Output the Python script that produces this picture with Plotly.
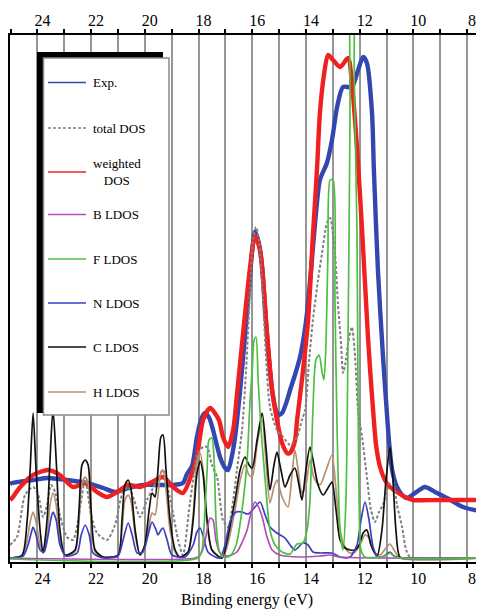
import plotly.graph_objects as go

# ---------------- data (binding energy in eV, intensity in arbitrary units) ----------------
E_LEFT, E_RIGHT = 25.02, 7.37
TICK_VALUES = list(range(8, 26))
TICK_LABELS = [str(v) if v % 2 == 0 else "" for v in TICK_VALUES]

exp_E = [25.02, 24.94, 24.16, 23.60, 22.90, 22.15, 21.55, 21.11, 20.62, 20.07, 19.43, 18.95,
         18.58, 18.43, 18.24, 18.06, 17.90, 17.76, 17.60, 17.46, 17.20, 17.01, 16.90, 16.75,
         16.64, 16.45, 16.30, 16.19, 16.08, 16.00, 15.90, 15.78, 15.63, 15.52, 15.41, 15.26,
         15.15, 15.04, 14.89, 14.70, 14.59, 14.41, 14.22, 14.07, 13.96, 13.81, 13.66, 13.48,
         13.22, 13.03, 12.84, 12.62, 12.29, 12.06, 11.87, 11.73, 11.54, 11.47, 11.32, 11.13,
         11.02, 10.91, 10.79, 10.61, 10.42, 10.24, 9.94, 9.57, 9.19, 8.75, 8.15, 7.37]
exp_I = [75, 76, 79, 81, 79, 76, 71, 67, 71, 74, 74, 74,
         76, 85, 93, 122, 140, 146, 141, 129, 102, 91, 89, 104,
         122, 169, 214, 249, 284, 309, 327, 319, 292, 249, 209, 169,
         152, 144, 146, 159, 169, 184, 202, 224, 246, 289, 336, 379,
         396, 419, 452, 472, 472, 489, 502, 496, 446, 389, 289, 202,
         159, 119, 89, 72, 64, 61, 66, 72, 67, 61, 52, 47]

wdos_E = [25.02, 24.94, 24.64, 24.16, 23.60, 23.16, 22.67, 22.22, 21.78, 21.41, 21.03, 20.62,
          20.18, 19.73, 19.32, 18.95, 18.58, 18.24, 18.06, 17.83, 17.57, 17.24, 17.09, 16.90,
          16.71, 16.57, 16.34, 16.08, 15.90, 15.71, 15.45, 15.26, 15.08, 14.89, 14.70, 14.59,
          14.41, 14.33, 14.15, 13.92, 13.74, 13.59, 13.48, 13.33, 13.18, 12.99, 12.73, 12.43,
          12.29, 12.10, 11.91, 11.69, 11.61, 11.50, 11.39, 11.24, 11.06, 10.87, 10.61, 10.31,
          10.01, 9.01, 7.37]
wdos_I = [59, 61, 72, 84, 89, 84, 72, 76, 67, 62, 67, 74,
          72, 77, 82, 72, 66, 86, 102, 139, 151, 139, 122, 112,
          129, 164, 226, 292, 323, 309, 226, 169, 139, 116, 106, 106,
          118, 139, 179, 239, 324, 389, 446, 484, 504, 499, 492, 501,
          476, 412, 329, 222, 189, 149, 114, 92, 79, 72, 67, 62,
          59, 59, 59]

tdos_E = [25.02, 24.76, 24.46, 24.16, 23.97, 23.79, 23.64, 23.49, 23.34, 23.16, 22.90, 22.67,
          22.48, 22.22, 22.00, 21.78, 21.41, 21.11, 20.85, 20.62, 20.40, 20.18, 19.92, 19.73,
          19.54, 19.32, 19.13, 18.95, 18.76, 18.58, 18.32, 18.02, 17.83, 17.68, 17.50, 17.31,
          17.09, 16.90, 16.71, 16.57, 16.38, 16.23, 16.08, 15.97, 15.86, 15.75, 15.60, 15.48,
          15.34, 15.08, 14.85, 14.59, 14.33, 14.15, 14.03, 13.88, 13.74, 13.55, 13.40, 13.22,
          13.10, 12.92, 12.81, 12.69, 12.62, 12.54, 12.43, 12.29, 12.17, 12.06, 11.91, 11.73,
          11.58, 11.43, 11.28, 11.13, 10.91, 10.76, 10.61, 10.42, 10.27, 10.12, 9.01, 7.37]
tdos_I = [14, 22, 64, 72, 64, 42, 54, 74, 67, 44, 22, 19,
          39, 79, 44, 26, 19, 34, 64, 72, 59, 42, 59, 69,
          79, 89, 69, 46, 19, 4, 56, 106, 112, 112, 94, 82,
          39, 32, 59, 89, 129, 189, 269, 319, 332, 319, 259, 199,
          152, 129, 122, 114, 122, 139, 149, 199, 239, 279, 306, 336,
          341, 306, 256, 214, 186, 194, 216, 232, 202, 149, 122, 82,
          49, 37, 47, 54, 74, 77, 54, 32, 9, 2, 1, 1]

b_E = [25.02, 18.13, 17.94, 17.79, 17.68, 17.57, 17.46, 17.35, 17.20, 16.90, 16.57, 16.34,
       16.19, 16.04, 15.90, 15.75, 15.60, 15.45, 15.26, 14.97, 14.22, 13.48, 13.10, 12.73, 7.37]
b_I = [1, 1, 4, 14, 29, 41, 39, 19, 6, 3, 7, 19,
       29, 47, 57, 51, 39, 22, 9, 4, 2, 3, 4, 2, 1]

f_E = [25.02, 18.02, 17.87, 17.76, 17.68, 17.61, 17.50, 17.42, 17.35, 17.24, 17.09, 16.83,
       16.60, 16.38, 16.19, 16.08, 16.00, 15.93, 15.86, 15.78, 15.67, 15.52, 15.34, 15.15,
       14.89, 14.59, 14.33, 14.11, 13.96, 13.85, 13.74, 13.63, 13.51, 13.40, 13.33, 13.25,
       13.18, 13.10, 12.99, 12.92, 12.84, 12.73, 12.62, 12.51, 12.43, 12.36, 12.31, 12.26,
       12.20, 12.10, 12.06, 12.02, 11.95, 11.80, 11.06, 10.87, 10.68, 7.37]
f_I = [0, 1, 9, 49, 89, 119, 121, 99, 39, 9, 2, 3,
       14, 49, 99, 159, 189, 219, 222, 179, 129, 79, 29, 14,
       7, 5, 15, 16, 29, 59, 149, 199, 204, 187, 179, 219,
       309, 379, 379, 259, 129, 29, 9, 59, 229, 439, 700, 700,
       480, 329, 160, 60, 9, 2, 3, 6, 2, 1]

n_E = [25.02, 24.53, 24.35, 24.23, 24.16, 24.05, 23.90, 23.75, 23.60, 23.49, 23.42, 23.30,
       23.16, 22.93, 22.52, 22.37, 22.22, 22.07, 21.93, 21.55, 21.00, 20.81, 20.62, 20.47,
       20.29, 20.07, 19.88, 19.73, 19.58, 19.51, 19.40, 19.32, 19.17, 18.99, 18.50, 18.20,
       18.06, 17.94, 17.79, 17.65, 17.38, 17.20, 17.01, 16.83, 16.60, 16.38, 16.16, 15.93,
       15.71, 15.52, 15.34, 15.08, 14.78, 14.59, 14.41, 14.11, 13.92, 13.74, 13.48, 13.03,
       12.73, 12.36, 12.10, 11.95, 11.80, 11.65, 11.50, 11.32, 11.09, 10.87, 10.72, 10.50, 7.37]
n_I = [1, 3, 14, 26, 32, 24, 9, 7, 24, 41, 47, 39,
       14, 3, 6, 24, 34, 24, 6, 1, 3, 19, 36, 24,
       6, 7, 24, 37, 29, 24, 29, 31, 19, 4, 2, 14,
       27, 31, 19, 7, 2, 1, 14, 37, 47, 47, 45, 51,
       57, 44, 32, 26, 21, 14, 9, 16, 14, 7, 6, 6,
       2, 2, 14, 39, 57, 39, 12, 2, 3, 7, 3, 1, 1]

c_E = [25.02, 24.57, 24.38, 24.27, 24.16, 24.05, 23.90, 23.79, 23.64, 23.53, 23.42, 23.30,
       23.16, 22.97, 22.60, 22.45, 22.34, 22.22, 22.11, 22.00, 21.85, 21.55, 21.00, 20.85,
       20.74, 20.62, 20.51, 20.36, 20.18, 20.00, 19.84, 19.73, 19.62, 19.51, 19.40, 19.32,
       19.21, 19.06, 18.87, 18.69, 18.39, 18.20, 18.06, 17.94, 17.83, 17.68, 17.50, 17.12,
       16.97, 16.83, 16.64, 16.45, 16.27, 16.12, 16.00, 15.82, 15.63, 15.48, 15.34, 15.19,
       15.08, 14.93, 14.78, 14.59, 14.41, 14.26, 14.15, 14.00, 13.85, 13.70, 13.55, 13.36,
       13.18, 13.03, 12.88, 12.73, 12.54, 12.36, 12.17, 12.02, 11.87, 11.73, 11.58, 11.35,
       11.17, 11.02, 10.87, 10.76, 10.65, 10.50, 10.12, 7.37]
c_I = [1, 4, 39, 89, 146, 89, 29, 6, 39, 99, 150, 99,
       29, 4, 9, 49, 94, 99, 94, 49, 9, 2, 4, 39,
       74, 79, 69, 29, 4, 14, 49, 66, 62, 89, 122, 124,
       89, 39, 9, 2, 7, 39, 85, 98, 85, 39, 9, 1,
       14, 32, 59, 89, 102, 94, 91, 119, 146, 109, 69, 94,
       107, 89, 72, 84, 91, 74, 59, 89, 112, 94, 74, 64,
       71, 77, 49, 19, 11, 9, 9, 14, 26, 29, 14, 3,
       29, 79, 112, 79, 29, 2, 1, 1]

h_E = [25.02, 24.57, 24.38, 24.27, 24.16, 24.05, 23.90, 23.79, 23.64, 23.53, 23.42, 23.30,
       23.16, 22.97, 22.60, 22.45, 22.34, 22.22, 22.11, 22.00, 21.85, 21.55, 21.00, 20.85,
       20.74, 20.62, 20.51, 20.36, 20.18, 20.00, 19.84, 19.73, 19.62, 19.51, 19.40, 19.32,
       19.21, 19.06, 18.87, 18.69, 18.39, 18.20, 18.06, 17.94, 17.83, 17.68, 17.50, 17.12,
       16.97, 16.83, 16.64, 16.45, 16.27, 16.12, 16.00, 15.82, 15.63, 15.48, 15.34, 15.19,
       15.08, 14.89, 14.67, 14.52, 14.41, 14.29, 14.15, 14.00, 13.85, 13.70, 13.48, 13.25,
       13.03, 12.88, 12.73, 12.54, 12.36, 12.17, 11.99, 11.80, 11.65, 11.47, 11.24, 11.02,
       10.87, 10.72, 10.50, 7.37]
h_I = [1, 3, 19, 37, 47, 37, 14, 7, 24, 54, 66, 54,
       19, 3, 7, 39, 76, 82, 76, 39, 7, 2, 4, 29,
       59, 64, 57, 24, 4, 11, 34, 46, 44, 64, 87, 89,
       69, 29, 7, 2, 7, 44, 96, 106, 89, 34, 9, 1,
       9, 24, 49, 79, 94, 84, 82, 114, 139, 94, 56, 72,
       79, 62, 52, 84, 109, 89, 66, 74, 99, 81, 74, 89,
       104, 69, 29, 11, 6, 7, 14, 24, 21, 7, 4, 11,
       15, 9, 1, 1]

SERIES = [
    # name, E, I, color, width, dash
    ("Exp.", exp_E, exp_I, "#3447b0", 4.4, "solid"),
    ("weighted DOS", wdos_E, wdos_I, "#f02020", 4.4, "solid"),
    ("total DOS", tdos_E, tdos_I, "#808080", 2.0, "3px,2px"),
    ("H LDOS", h_E, h_I, "#b8906e", 1.7, "solid"),
    ("C LDOS", c_E, c_I, "#111111", 1.7, "solid"),
    ("N LDOS", n_E, n_I, "#3a3fc0", 1.7, "solid"),
    ("B LDOS", b_E, b_I, "#b24cb8", 1.7, "solid"),
    ("F LDOS", f_E, f_I, "#4cc040", 1.7, "solid"),
]

LEGEND_ORDER = ["Exp.", "total DOS", "weighted DOS", "B LDOS", "F LDOS", "N LDOS", "C LDOS", "H LDOS"]
LEGEND_TEXT = {"weighted DOS": "weighted<br>DOS"}

# ---------------- figure ----------------
# the page adds an 8 px body margin, so the figure is 8 px smaller in each direction
BODY = 8
W, H = 484 - BODY, 609 - BODY
ML, MR, MT, MB = 10 - BODY, 0, 35 - BODY, 47
PW, PH = W - ML - MR, H - MT - MB

def px(x):  # page pixel -> paper fraction
    return (x - BODY - ML) / PW

def py(y):
    return (H - MB - (y - BODY)) / PH

FONT = "Liberation Serif, Times New Roman, serif"

fig = go.Figure()
for name, ex, iy, col, wd, dash in SERIES:
    fig.add_trace(go.Scatter(x=ex, y=iy, mode="lines", name=name,
                             line=dict(color=col, width=wd, dash=dash, shape="spline", smoothing=0.7),
                             showlegend=False, hoverinfo="skip"))

# invisible trace to anchor the top axis
fig.add_trace(go.Scatter(x=[E_LEFT], y=[0], xaxis="x2", mode="markers",
                         marker=dict(opacity=0), showlegend=False, hoverinfo="skip"))

axis_common = dict(range=[E_LEFT, E_RIGHT], tickmode="array", tickvals=TICK_VALUES,
                   ticktext=TICK_LABELS, ticks="outside", ticklen=4, tickwidth=1.5,
                   tickcolor="black", showline=True, linecolor="black", linewidth=2,
                   tickfont=dict(family=FONT, size=16, color="black"), ticklabelshift=-5,
                   zeroline=False)

fig.update_layout(
    width=W, height=H,
    margin=dict(l=ML, r=MR, t=MT, b=MB, autoexpand=False),
    paper_bgcolor="white", plot_bgcolor="white",
    xaxis=dict(**axis_common, showgrid=True, gridcolor="#969696", gridwidth=1.6,
               ticklabelstandoff=-3,
               title=dict(text="Binding energy (eV)", font=dict(family=FONT, size=16, color="black"),
                          standoff=8)),
    xaxis2=dict(**axis_common, overlaying="x", side="top", showgrid=False, ticklabelstandoff=-3),
    yaxis=dict(range=[-3, 524], showline=True, linecolor="black", linewidth=2,
               showticklabels=False, ticks="", showgrid=False, zeroline=False),
)

# ---------------- legend box (drawn manually) ----------------
shapes = [
    dict(type="rect", xref="paper", yref="paper", x0=px(37), x1=px(43.5), y0=py(413), y1=py(52),
         fillcolor="black", line=dict(width=0), layer="above"),
    dict(type="rect", xref="paper", yref="paper", x0=px(37), x1=px(163), y0=py(58), y1=py(52),
         fillcolor="black", line=dict(width=0), layer="above"),
    dict(type="rect", xref="paper", yref="paper", x0=px(43.5), x1=px(169), y0=py(415), y1=py(58),
         fillcolor="white", line=dict(color="#8a8a8a", width=1.5), layer="above"),
]
annotations = []
ENTRY_Y = [82.5, 128, 172, 214.5, 259, 303, 347, 392]
style = {s[0]: s for s in SERIES}
for name, yy in zip(LEGEND_ORDER, ENTRY_Y):
    _, _, _, col, wd, dash = style[name]
    shapes.append(dict(type="line", xref="paper", yref="paper", x0=px(48), x1=px(86),
                       y0=py(yy), y1=py(yy), line=dict(color=col, width=1.5, dash=dash),
                       layer="above"))
    annotations.append(dict(xref="paper", yref="paper", x=px(91), y=py(yy),
                            text=LEGEND_TEXT.get(name, name), showarrow=False,
                            xanchor="left", yanchor="middle", align="center",
                            font=dict(family=FONT, size=13, color="black")))

fig.update_layout(shapes=shapes, annotations=annotations)
fig.write_html("out.html")
